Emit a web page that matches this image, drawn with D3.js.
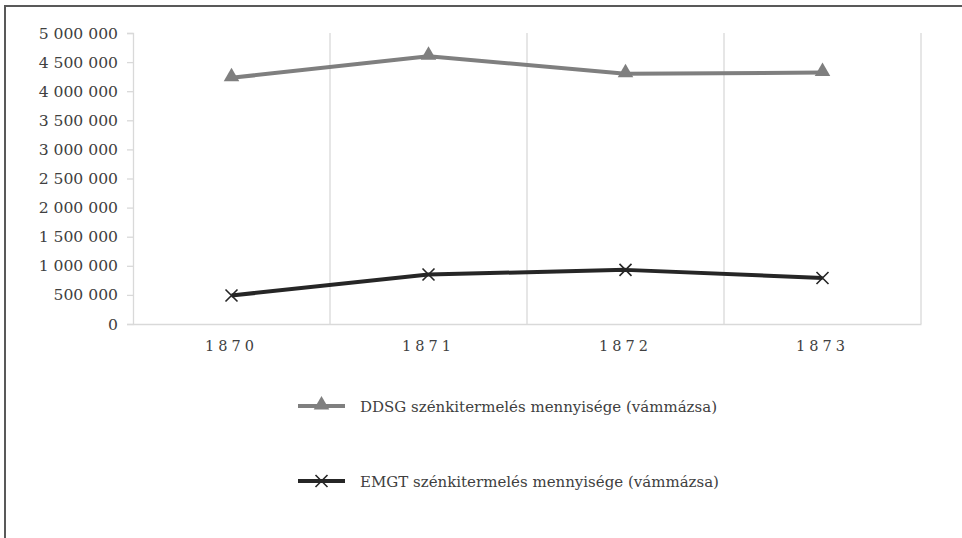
<!DOCTYPE html>
<html>
<head>
<meta charset="utf-8">
<script src="https://cdn.jsdelivr.net/npm/d3@7/dist/d3.min.js"></script>
<style>
  html, body { margin: 0; padding: 0; background: #ffffff; }
  svg { display: block; }
  svg text { font-family: "DejaVu Serif", serif !important; fill: #404040; }
</style>
</head>
<body>
<svg id="chart" width="962" height="538"></svg>
<script>
const years = ["1870", "1871", "1872", "1873"];
const ddsgValues = [4230000, 4600000, 4300000, 4320000];
const emgtValues = [490000, 850000, 930000, 790000];
const yTicks = [0, 500000, 1000000, 1500000, 2000000, 2500000, 3000000, 3500000, 4000000, 4500000, 5000000];
const seriesNames = ["DDSG szénkitermelés mennyisége (vámmázsa)", "EMGT szénkitermelés mennyisége (vámmázsa)"];

(function () {
const FONT = "'DejaVu Serif', serif";
const svg = d3.select("#chart");

// frame
svg.append("rect").attr("x", 0).attr("y", 0).attr("width", 962).attr("height", 538).attr("fill", "#ffffff");
svg.append("path").attr("d", "M5,538 V6 H962").attr("fill", "none").attr("stroke", "#595959").attr("stroke-width", 2);

const pLeft = 133, pRight = 921, pTop = 33, pBottom = 324;
const x = d3.scaleBand().domain(years).range([pLeft, pRight]).padding(0);
const y = d3.scaleLinear().domain([0, 5000000]).range([pBottom, pTop]);

const fmt = v => d3.format(",")(v).replace(/,/g, " ");

// vertical gridlines at band boundaries
const bounds = years.map(d => x(d) + x.bandwidth());
svg.append("g").selectAll("line").data(bounds).join("line")
  .attr("x1", d => d).attr("x2", d => d)
  .attr("y1", pTop).attr("y2", pBottom)
  .attr("stroke", "#d9d9d9").attr("stroke-width", 1.3);

// y axis
const yAxis = svg.append("g").attr("transform", `translate(${pLeft},0)`)
  .call(d3.axisLeft(y).tickValues(yTicks).tickFormat(fmt).tickSize(6).tickPadding(9));
yAxis.attr("font-family", FONT);
yAxis.select(".domain").attr("stroke", "#d9d9d9").attr("stroke-width", 1.3);
yAxis.selectAll(".tick line").attr("stroke", "#d9d9d9").attr("stroke-width", 1.3);
yAxis.selectAll(".tick text").attr("font-size", 15.6).attr("fill", "#404040");

// x axis
const xAxis = svg.append("g").attr("transform", `translate(0,${pBottom})`)
  .call(d3.axisBottom(x).tickSize(0).tickPadding(17));
xAxis.attr("font-family", FONT);
xAxis.select(".domain").attr("stroke", "#d9d9d9").attr("stroke-width", 1.3);
xAxis.selectAll(".tick text").attr("font-size", 14.5).attr("fill", "#404040")
  .style("letter-spacing", "4px");

const cx = d => x(d) + x.bandwidth() / 2;
const line = d3.line().x(d => cx(d.year)).y(d => y(d.v));

const ddsg = years.map((yr, i) => ({ year: yr, v: ddsgValues[i] }));
const emgt = years.map((yr, i) => ({ year: yr, v: emgtValues[i] }));

const grey = "#7f7f7f", dark = "#262626";
const tri = d3.symbol().type(d3.symbolTriangle).size(105);

svg.append("path").datum(ddsg).attr("d", line).attr("fill", "none")
  .attr("stroke", grey).attr("stroke-width", 4).attr("stroke-linejoin", "round");
svg.append("g").selectAll("path").data(ddsg).join("path")
  .attr("d", tri).attr("transform", d => `translate(${cx(d.year)},${y(d.v) - 1})`)
  .attr("fill", grey);

svg.append("path").datum(emgt).attr("d", line).attr("fill", "none")
  .attr("stroke", dark).attr("stroke-width", 4).attr("stroke-linejoin", "round");
const xMark = (g, px, py, s) => g.append("path")
  .attr("d", `M${px - s},${py - s}L${px + s},${py + s}M${px - s},${py + s}L${px + s},${py - s}`)
  .attr("stroke", dark).attr("stroke-width", 1.6).attr("fill", "none");
const emg = svg.append("g");
emgt.forEach(d => xMark(emg, cx(d.year), y(d.v), 6));

// legend
const lg = svg.append("g").attr("font-family", FONT);
const legendRows = [
  { name: seriesNames[0], color: grey, marker: "tri", yy: 406 },
  { name: seriesNames[1], color: dark, marker: "x", yy: 481 }
];
legendRows.forEach(r => {
  lg.append("line").attr("x1", 298).attr("x2", 345).attr("y1", r.yy).attr("y2", r.yy)
    .attr("stroke", r.color).attr("stroke-width", 4);
  if (r.marker === "tri") {
    lg.append("path").attr("d", tri).attr("transform", `translate(321.5,${r.yy - 1})`).attr("fill", r.color);
  } else {
    xMark(lg, 321.5, r.yy, 6);
  }
  lg.append("text").attr("x", 360).attr("y", r.yy + 6).attr("font-size", 15)
    .attr("fill", "#404040").text(r.name);
});
})();
</script>
</body>
</html>
